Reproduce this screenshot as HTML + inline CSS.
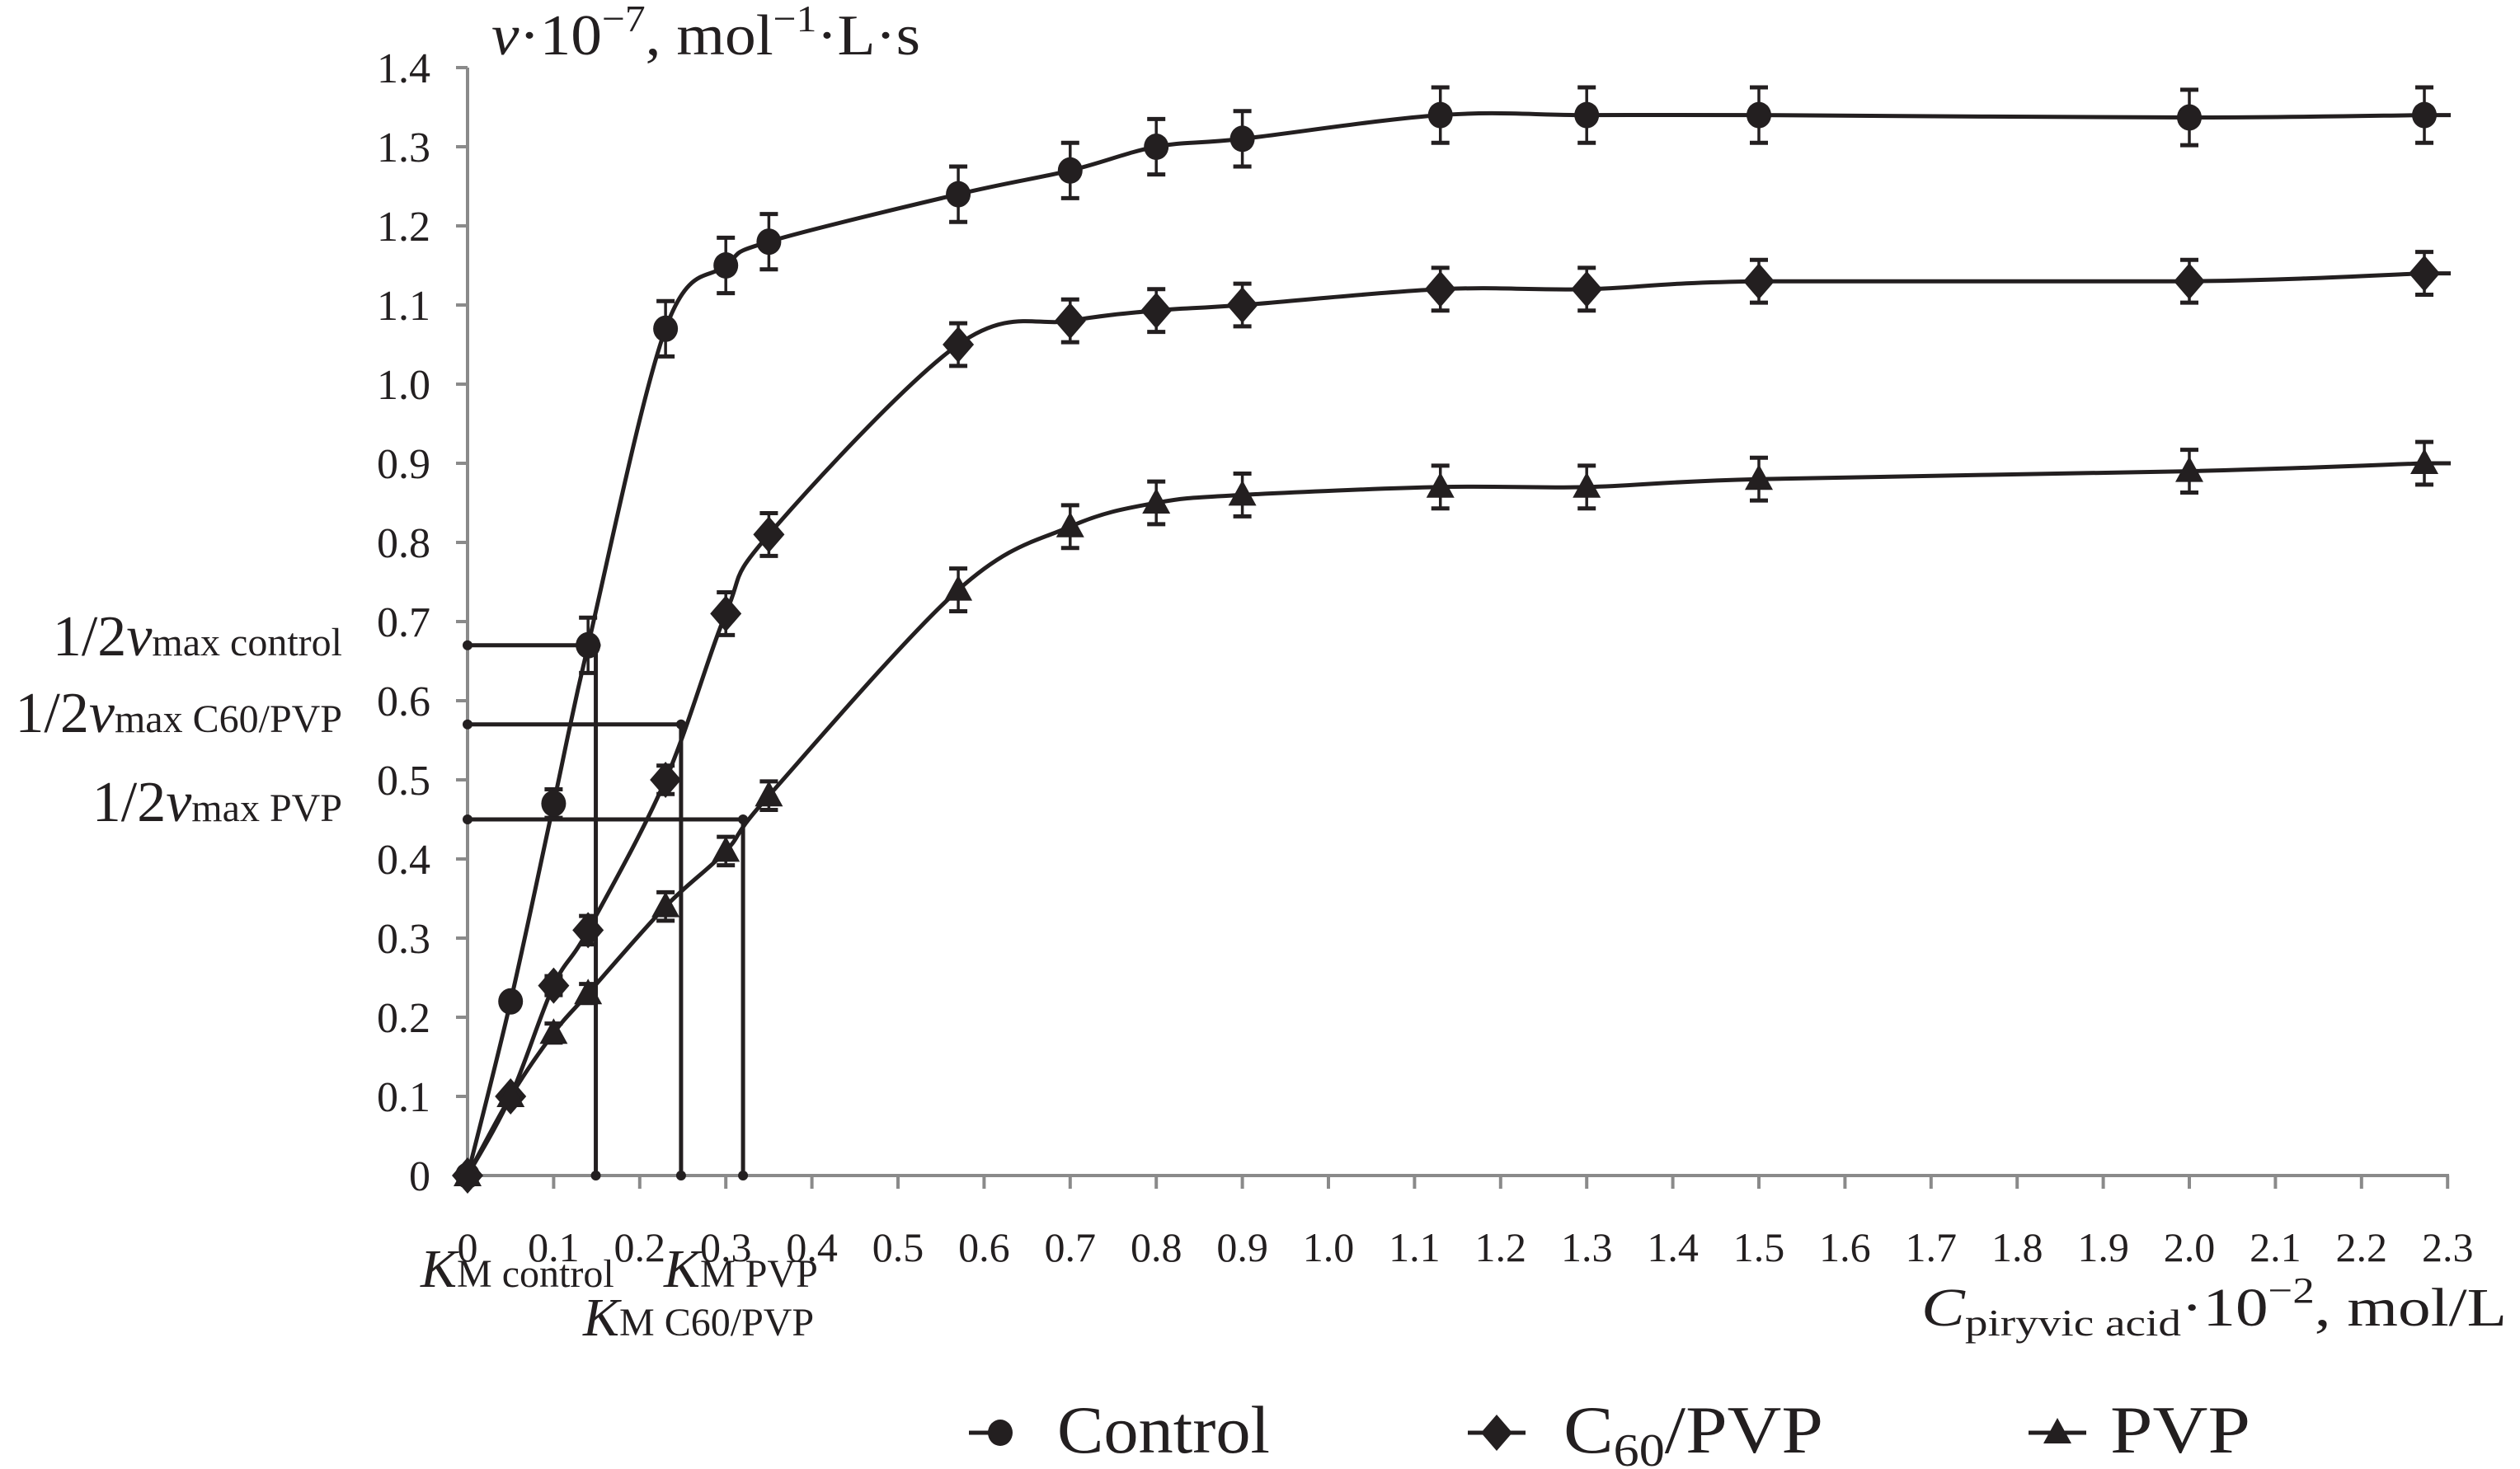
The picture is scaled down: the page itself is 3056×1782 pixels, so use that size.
<!DOCTYPE html>
<html><head><meta charset="utf-8"><style>
html,body{margin:0;padding:0;background:#fff;}
svg{display:block;}
text{font-family:"Liberation Serif",serif;fill:#231f20;}
</style></head><body>
<svg id="s" width="3056" height="1782" viewBox="0 0 3056 1782" xmlns="http://www.w3.org/2000/svg">
<g id="axes" stroke="#8a8a8a" stroke-width="4" fill="none">
<line x1="567" y1="82" x2="567" y2="1426"/>
<line x1="565" y1="1426" x2="2970" y2="1426"/>
</g>
<g id="g"></g>
<g font-size="52" text-anchor="end" id="yl"></g>
<g font-size="50" text-anchor="middle" id="xl"></g>
<text x="596" y="66" font-size="70" textLength="520" lengthAdjust="spacingAndGlyphs"><tspan font-style="italic">v</tspan>·10<tspan font-size="46" dy="-28">−7</tspan><tspan dy="28">, mol</tspan><tspan font-size="46" dy="-28">−1</tspan><tspan dy="28">·L·s</tspan></text>
<text x="415" y="795" font-size="70" text-anchor="end">1/2<tspan font-style="italic">v</tspan><tspan font-size="48">max control</tspan></text>
<text x="415" y="888" font-size="70" text-anchor="end">1/2<tspan font-style="italic">v</tspan><tspan font-size="48">max C60/PVP</tspan></text>
<text x="415" y="996" font-size="70" text-anchor="end">1/2<tspan font-style="italic">v</tspan><tspan font-size="48">max PVP</tspan></text>
<text x="510" y="1561" font-size="66"><tspan font-style="italic">K</tspan><tspan font-size="48">M control</tspan></text>
<text x="805" y="1561" font-size="66"><tspan font-style="italic">K</tspan><tspan font-size="48">M PVP</tspan></text>
<text x="707" y="1620" font-size="66"><tspan font-style="italic">K</tspan><tspan font-size="48">M C60/PVP</tspan></text>
<text x="2330" y="1608" font-size="66" textLength="710" lengthAdjust="spacingAndGlyphs"><tspan font-style="italic">C</tspan><tspan font-size="46" dy="12">piryvic acid</tspan><tspan dy="-12">·10</tspan><tspan font-size="44" dy="-28">−2</tspan><tspan dy="28">, mol/L</tspan></text>
<g id="leg"></g>
<text x="1282" y="1762" font-size="82" textLength="258" lengthAdjust="spacingAndGlyphs">Control</text>
<text x="1896" y="1762" font-size="82" textLength="315" lengthAdjust="spacingAndGlyphs">C<tspan font-size="56" dy="16">60</tspan><tspan dy="-16">/PVP</tspan></text>
<text x="2559" y="1762" font-size="82" textLength="170" lengthAdjust="spacingAndGlyphs">PVP</text>
</svg>
<script>
const NS="http://www.w3.org/2000/svg";
const X=c=>567+1044*c, Y=v=>1426-960*v;
function el(p,t,a,txt){const e=document.createElementNS(NS,t);for(const k in a)e.setAttribute(k,a[k]);if(txt!==undefined)e.textContent=txt;p.appendChild(e);return e;}
const g=document.getElementById('g'),ax=document.getElementById('axes');
const yl=document.getElementById('yl'),xl=document.getElementById('xl');
for(let i=0;i<=14;i++){const y=Y(i/10);el(ax,'line',{x1:553,y1:y,x2:567,y2:y});
 el(yl,'text',{x:522,y:y+18},i==0?'0':(i/10).toFixed(1));}
for(let i=0;i<=23;i++){const x=X(i/10);el(ax,'line',{x1:x,y1:1426,x2:x,y2:1442});
 el(xl,'text',{x:x,y:1530},i==0?'0':(i/10).toFixed(1));}
const km=[[0.149,0.67],[0.248,0.57],[0.32,0.45]];
km.forEach(([c,v])=>{el(g,'polyline',{points:`${X(0)},${Y(v)} ${X(c)},${Y(v)} ${X(c)},${Y(0)}`,fill:'none',stroke:'#231f20','stroke-width':5});
 [[X(0),Y(v)],[X(c),Y(v)],[X(c),Y(0)]].forEach(([x,y])=>el(g,'circle',{cx:x,cy:y,r:6,fill:'#231f20'}));});
const xs=[0,0.05,0.1,0.14,0.23,0.3,0.35,0.57,0.7,0.8,0.9,1.13,1.3,1.5,2.0,2.273];
const data=[
 {ys:[0,0.22,0.47,0.67,1.07,1.15,1.18,1.24,1.27,1.30,1.31,1.34,1.34,1.34,1.337,1.34],m:'c',e:0.035},
 {ys:[0,0.1,0.24,0.31,0.50,0.71,0.81,1.05,1.08,1.093,1.10,1.12,1.12,1.13,1.13,1.14],m:'d',e:0.027},
 {ys:[0,0.1,0.18,0.23,0.34,0.41,0.48,0.74,0.82,0.85,0.86,0.87,0.87,0.88,0.89,0.90],m:'t',e:0.027}];
function mark(p,m,x,y){
 if(m=='c')el(p,'ellipse',{cx:x,cy:y,rx:15,ry:16,fill:'#231f20'});
 else if(m=='d')el(p,'polygon',{points:`${x},${y-22} ${x+19},${y} ${x},${y+22} ${x-19},${y}`,fill:'#231f20'});
 else el(p,'polygon',{points:`${x},${y-18} ${x+17},${y+13} ${x-17},${y+13}`,fill:'#231f20'});}
data.forEach(s=>{
 const P=xs.map((c,i)=>[X(c),Y(s.ys[i])]);
 let d=`M${P[0][0]},${P[0][1]}`;
 for(let i=0;i<P.length-1;i++){const p0=P[Math.max(0,i-1)],p1=P[i],p2=P[i+1],p3=P[Math.min(P.length-1,i+2)];const t=0.17;
  d+=` C${p1[0]+(p2[0]-p0[0])*t},${p1[1]+(p2[1]-p0[1])*t} ${p2[0]-(p3[0]-p1[0])*t},${p2[1]-(p3[1]-p1[1])*t} ${p2[0]},${p2[1]}`;}
 d+=` L2972,${P[P.length-1][1]}`;
 el(g,'path',{d:d,fill:'none',stroke:'#231f20','stroke-width':5});
 P.forEach(([x,y],i)=>{const v=s.ys[i];
  if(i>=2||(s.m=='c'&&i>=3)){const e=v<0.3?0.012:(v<0.6?0.018:s.e);const a=Y(v+e),b=Y(v-e);
   el(g,'line',{x1:x,y1:a,x2:x,y2:b,stroke:'#231f20','stroke-width':3.5});
   el(g,'line',{x1:x-11,y1:a,x2:x+11,y2:a,stroke:'#231f20','stroke-width':5});
   el(g,'line',{x1:x-11,y1:b,x2:x+11,y2:b,stroke:'#231f20','stroke-width':5});}
  mark(g,s.m,x,y);});
});
const leg=document.getElementById('leg');
[[1175,1220,'c'],[1780,1850,'d'],[2460,2530,'t']].forEach(([a,b,m])=>{
 el(leg,'line',{x1:a,y1:1738,x2:b,y2:1738,stroke:'#231f20','stroke-width':5});mark(leg,m,m=='c'?1213:(a+b)/2,1738);});
</script>
</body></html>
